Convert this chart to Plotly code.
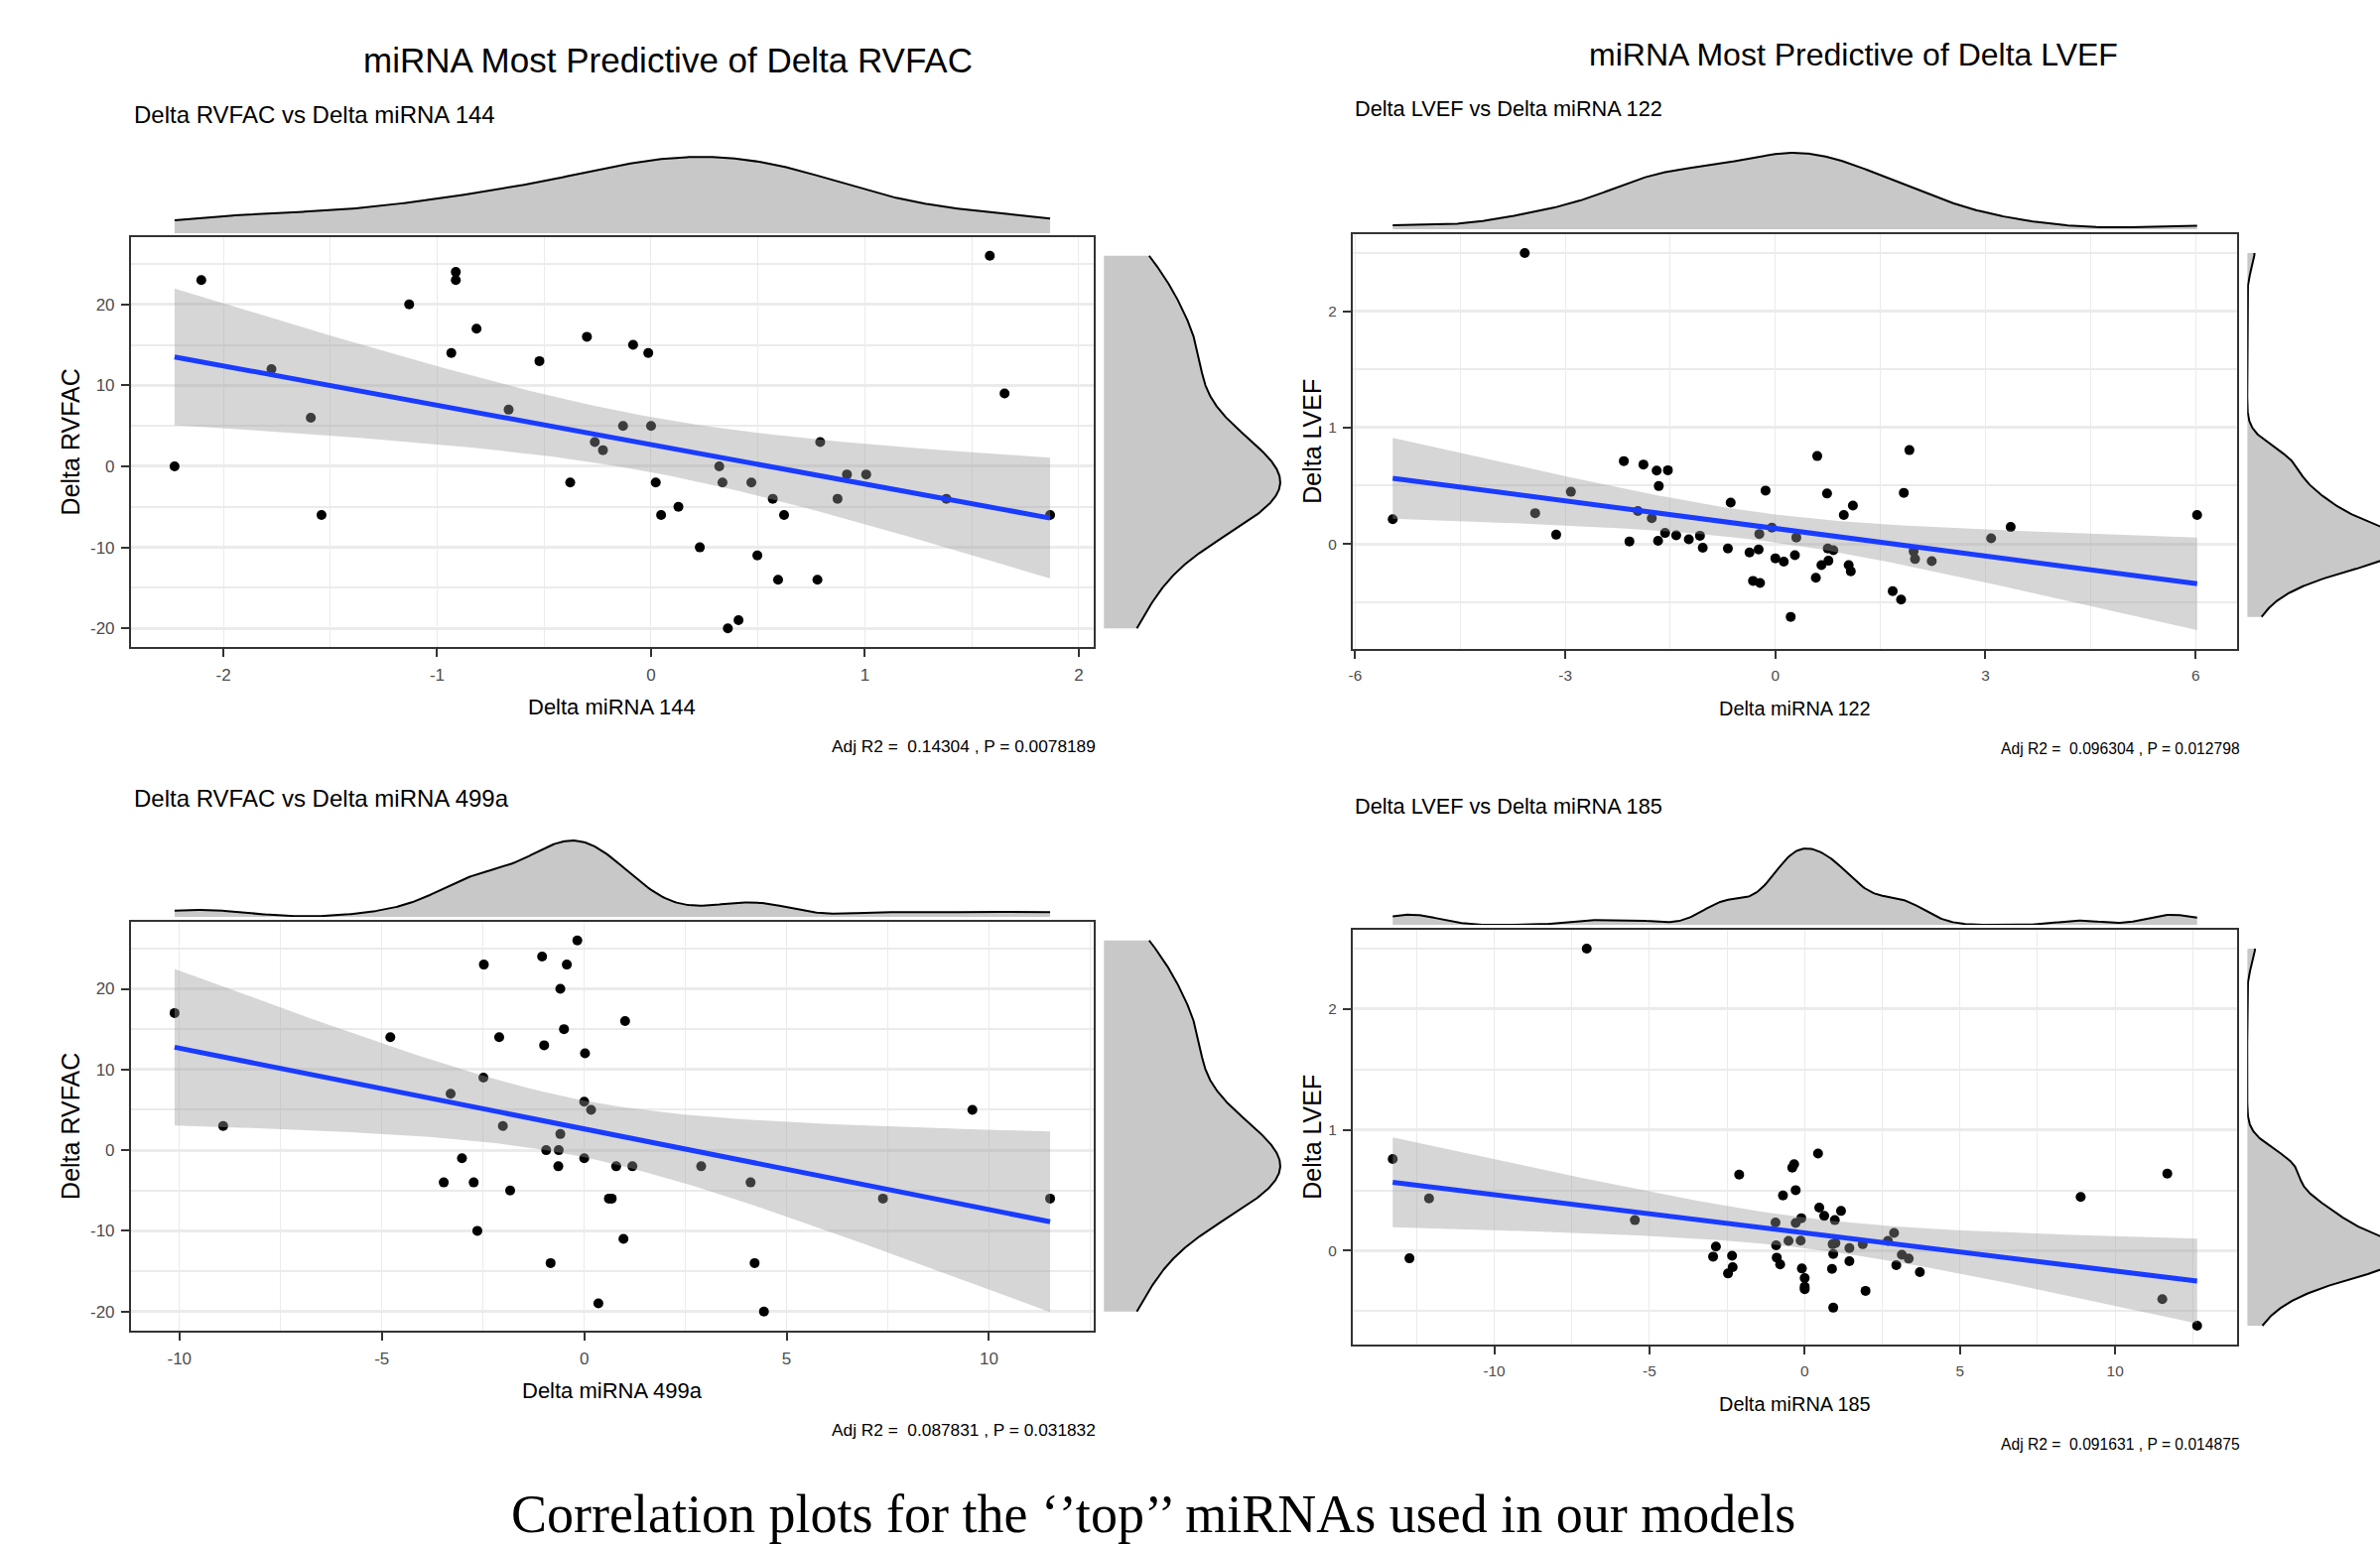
import numpy as np
import plotly.graph_objects as go

# ---------------- data ----------------
# Panel 1: Delta RVFAC vs Delta miRNA 144
mir144 = [-2.228, -2.103, -1.775, -1.591, -1.541, -1.131, -0.934, -0.913, -0.913, -0.816,
          -0.666, -0.522, -0.378, -0.300, -0.263, -0.225, -0.131, -0.084, -0.013, 0.000,
          0.022, 0.047, 0.128, 0.228, 0.319, 0.334, 0.359, 0.409, 0.469, 0.497,
          0.569, 0.594, 0.622, 0.778, 0.791, 0.872, 0.916, 1.006, 1.381, 1.584,
          1.653, 1.866]
rvfac_144 = [0, 23, 12, 6, -6, 20, 14, 24, 23, 17,
             7, 13, -2, 16, 3, 2, 5, 15, 14, 5,
             -2, -6, -5, -10, 0, -2, -20, -19, -2, -11,
             -4, -14, -6, -14, 3, -4, -1, -1, -4, 26,
             9, -6]

# Panel 2: Delta LVEF vs Delta miRNA 122
mir122 = [-5.464, -3.579, -3.430, -3.130, -2.920, -2.164, -2.084, -1.964, -1.884, -1.765,
          -1.695, -1.675, -1.665, -1.575, -1.535, -1.416, -1.236, -1.077, -1.037, -0.678,
          -0.638, -0.369, -0.319, -0.239, -0.229, -0.219, -0.140, -0.050, 0.000, 0.120,
          0.219, 0.279, 0.299, 0.578, 0.598, 0.658, 0.738, 0.748, 0.758, 0.828,
          0.977, 1.047, 1.077, 1.107, 1.675, 1.795, 1.834, 1.914, 1.974, 1.994,
          2.233, 3.081, 3.360, 6.022]
lvef_122 = [0.212, 2.500, 0.264, 0.079, 0.448, 0.712, 0.021, 0.282, 0.682, 0.221,
            0.630, 0.027, 0.497, 0.094, 0.633, 0.073, 0.039, 0.070, -0.033, -0.039,
            0.355, -0.073, -0.318, -0.048, 0.085, -0.336, 0.458, 0.139, -0.124, -0.152,
            -0.627, -0.097, 0.055, -0.291, 0.755, -0.182, 0.433, -0.039, -0.145, -0.055,
            0.248, -0.182, -0.236, 0.330, -0.406, -0.479, 0.439, 0.806, -0.064, -0.130,
            -0.148, 0.048, 0.145, 0.248]

# Panel 3: Delta RVFAC vs Delta miRNA 499a
mir499a = [-10.12, -8.92, -4.79, -3.47, -3.30, -3.02, -2.73, -2.64, -2.49, -2.48,
           -2.10, -2.01, -1.83, -1.04, -0.99, -0.94, -0.83, -0.64, -0.63, -0.59,
           -0.59, -0.50, -0.43, -0.17, 0.00, 0.00, 0.02, 0.17, 0.35, 0.61,
           0.68, 0.79, 0.97, 1.01, 1.19, 2.89, 4.11, 4.21, 4.44, 7.38,
           9.59, 11.51]
rvfac_499a = [17, 3, 14, -4, 7, -1, -4, -10, 9, 23,
              14, 3, -5, 24, 13, 0, -14, -2, 0, 2,
              20, 15, 23, 26, -1, 6, 12, 5, -19, -6,
              -6, -2, -11, 16, -2, -2, -4, -14, -20, -6,
              5, -6]

# Panel 4: Delta LVEF vs Delta miRNA 185
mir185 = [-13.27, -12.73, -12.10, -7.02, -5.47, -2.95, -2.86, -2.47, -2.34, -2.32,
          -2.11, -0.94, -0.92, -0.90, -0.79, -0.70, -0.52, -0.40, -0.34, -0.29,
          -0.29, -0.13, -0.11, -0.09, 0.00, 0.00, 0.00, 0.43, 0.47, 0.63,
          0.88, 0.90, 0.92, 0.92, 0.97, 0.99, 1.17, 1.44, 1.44, 1.87,
          1.96, 2.68, 2.88, 2.95, 3.13, 3.35, 3.71, 8.89, 11.52, 11.68,
          12.64]
lvef_185 = [0.759, -0.063, 0.433, 2.498, 0.253, -0.049, 0.035, -0.188, -0.041, -0.136,
            0.629, 0.234, 0.044, -0.057, -0.114, 0.457, 0.082, 0.686, 0.716, 0.501,
            0.229, 0.084, 0.269, -0.147, -0.226, -0.297, -0.318, 0.803, 0.356, 0.288,
            -0.150, 0.054, -0.027, -0.471, 0.253, 0.063, 0.329, 0.022, -0.087, 0.054,
            -0.332, 0.082, 0.147, -0.120, -0.033, -0.065, -0.177, 0.444, -0.400, 0.637,
            -0.620]

# tick values
xticks_144 = [-2, -1, 0, 1, 2]
xticks_122 = [-6, -3, 0, 3, 6]
xticks_499a = [-10, -5, 0, 5, 10]
xticks_185 = [-10, -5, 0, 5, 10]
yticks_rvfac = [-20, -10, 0, 10, 20]
yticks_lvef = [0, 1, 2]

section_titles = ["miRNA Most Predictive of Delta RVFAC", "miRNA Most Predictive of Delta LVEF"]
subtitles = ["Delta RVFAC vs Delta miRNA 144", "Delta LVEF vs Delta miRNA 122",
             "Delta RVFAC vs Delta miRNA 499a", "Delta LVEF vs Delta miRNA 185"]
xtitles = ["Delta miRNA 144", "Delta miRNA 122", "Delta miRNA 499a", "Delta miRNA 185"]
ytitles = ["Delta RVFAC", "Delta LVEF", "Delta RVFAC", "Delta LVEF"]
stats_text = ["Adj R2 = \u00a00.14304 , P = 0.0078189",
              "Adj R2 = \u00a00.096304 , P = 0.012798",
              "Adj R2 = \u00a00.087831 , P = 0.031832",
              "Adj R2 = \u00a00.091631 , P = 0.014875"]
caption = "Correlation plots for the \u2018\u2019top\u2019\u2019 miRNAs used in our models"

# ---------------- helpers ----------------
W, H = 2398, 1556


def px(x):
    return x / W


def py(y):
    return 1 - y / H


def t975(df):
    z = 1.959963985
    g1 = (z ** 3 + z) / 4
    g2 = (5 * z ** 5 + 16 * z ** 3 + 3 * z) / 96
    g3 = (3 * z ** 7 + 19 * z ** 5 + 17 * z ** 3 - 15 * z) / 384
    return z + g1 / df + g2 / df ** 2 + g3 / df ** 3


def lm_band(x, y, n=80):
    x = np.asarray(x, float)
    y = np.asarray(y, float)
    N = len(x)
    b, a = np.polyfit(x, y, 1)
    xs = np.linspace(x.min(), x.max(), n)
    fit = a + b * xs
    resid = y - (a + b * x)
    s = np.sqrt((resid ** 2).sum() / (N - 2))
    sxx = ((x - x.mean()) ** 2).sum()
    se = s * np.sqrt(1 / N + (xs - x.mean()) ** 2 / sxx)
    t = t975(N - 2)
    return xs, fit, fit - t * se, fit + t * se


def kde(v, n=512):
    v = np.asarray(v, float)
    N = len(v)
    sd = v.std(ddof=1)
    q75, q25 = np.percentile(v, [75, 25])
    lo = min(sd, (q75 - q25) / 1.34)
    bw = 0.9 * lo * N ** -0.2
    g = np.linspace(v.min(), v.max(), n)
    d = np.exp(-0.5 * ((g[:, None] - v[None, :]) / bw) ** 2).sum(1) / (N * bw * np.sqrt(2 * np.pi))
    return g, d


def expand(lo, hi, f=0.05):
    s = hi - lo
    return [lo - f * s, hi + f * s]


def minor_vals(ticks):
    s = ticks[1] - ticks[0]
    return [ticks[0] - s / 2] + [t + s / 2 for t in ticks]


def axkey(kind, idx):
    return kind + "axis" + ("" if idx == 1 else str(idx))


def axref(kind, idx):
    return kind + ("" if idx == 1 else str(idx))


# ---------------- layout geometry (pixels) ----------------
DXL, DXR = -5, -3   # small horizontal corrections per column
panels = [
    dict(x=mir144, y=rvfac_144, xt=xticks_144, yt=yticks_rvfac, dx=DXL, fs=1.0,
         L=133, R=1105, T=239, B=652, topbase=235, rstart=1115, rw=187,
         sub=(134, 116), ytitle_x=72, stat_right=1104),
    dict(x=mir122, y=lvef_122, xt=xticks_122, yt=yticks_lvef, dx=DXR, fs=0.905,
         L=1364, R=2257, T=236, B=654, topbase=231, rstart=2267, rw=172,
         sub=(1364, 110), ytitle_x=1323, stat_right=2259),
    dict(x=mir499a, y=rvfac_499a, xt=xticks_499a, yt=yticks_rvfac, dx=DXL, fs=1.0,
         L=133, R=1105, T=929, B=1341, topbase=924, rstart=1115, rw=187,
         sub=(134, 804), ytitle_x=72, stat_right=1104),
    dict(x=mir185, y=lvef_185, xt=xticks_185, yt=yticks_lvef, dx=DXR, fs=0.905,
         L=1364, R=2257, T=937, B=1355, topbase=932, rstart=2267, rw=172,
         sub=(1364, 812), ytitle_x=1323, stat_right=2259),
]

SANS = "Liberation Sans, Arial, sans-serif"
SERIF = "Liberation Serif, Times New Roman, serif"
GRID = "#EBEBEB"
FRAME = "#333333"

fig = go.Figure()
layout = dict(width=W, height=H, margin=dict(l=0, r=0, t=0, b=0, pad=0),
              paper_bgcolor="white", plot_bgcolor="white", showlegend=False,
              font=dict(family=SANS, color="black"))
annotations = []

for i, p in enumerate(panels):
    im, it, ir = 3 * i + 1, 3 * i + 2, 3 * i + 3
    d = p["dx"]
    fs = p["fs"]
    L, R, T, B = p["L"] + d, p["R"] + d, p["T"], p["B"]
    x = np.asarray(p["x"], float)
    y = np.asarray(p["y"], float)
    xs, fit, lo, hi = lm_band(x, y)
    xr = expand(x.min(), x.max())
    yr = expand(min(y.min(), lo.min()), max(y.max(), hi.max()))

    # main scatter (points under the ribbon, as in ggplot)
    fig.add_trace(go.Scatter(x=x, y=y, mode="markers",
                             marker=dict(color="black", size=10, line=dict(width=0)),
                             xaxis=axref("x", im), yaxis=axref("y", im), hoverinfo="skip"))
    fig.add_trace(go.Scatter(x=np.concatenate([xs, xs[::-1]]),
                             y=np.concatenate([hi, lo[::-1]]),
                             mode="lines", fill="toself", fillcolor="rgba(153,153,153,0.4)",
                             line=dict(width=0), xaxis=axref("x", im), yaxis=axref("y", im),
                             hoverinfo="skip"))
    fig.add_trace(go.Scatter(x=xs, y=fit, mode="lines", line=dict(color="#1A3CFF", width=5),
                             xaxis=axref("x", im), yaxis=axref("y", im), hoverinfo="skip"))

    # marginal densities
    gx, dxv = kde(x)
    gy, dyv = kde(y)
    fig.add_trace(go.Scatter(x=gx, y=dxv, mode="lines", fill="tozeroy", fillcolor="#C8C8C8",
                             line=dict(color="black", width=2),
                             xaxis=axref("x", it), yaxis=axref("y", it), hoverinfo="skip"))
    fig.add_trace(go.Scatter(x=dyv, y=gy, mode="lines", fill="tozerox", fillcolor="#C8C8C8",
                             line=dict(color="black", width=2),
                             xaxis=axref("x", ir), yaxis=axref("y", ir), hoverinfo="skip"))

    xdom = [px(L), px(R)]
    ydom = [py(B), py(T)]
    common = dict(showline=True, mirror=True, linecolor=FRAME, linewidth=1.6,
                  ticks="outside", ticklen=8, tickwidth=2, tickcolor=FRAME,
                  tickfont=dict(size=17 * fs, color="#4D4D4D", family=SANS),
                  zeroline=False, showgrid=True, gridcolor=GRID)
    layout[axkey("x", im)] = dict(common, domain=xdom, range=xr, anchor=axref("y", im),
                                  tickvals=p["xt"], ticktext=[str(v) for v in p["xt"]],
                                  gridwidth=1.4, ticklabelstandoff=4,
                                  minor=dict(tickvals=minor_vals(p["xt"]), showgrid=True,
                                             gridcolor=GRID, gridwidth=0.9, ticks=""))
    layout[axkey("y", im)] = dict(common, domain=ydom, range=yr, anchor=axref("x", im),
                                  tickvals=p["yt"], ticktext=[str(v) for v in p["yt"]],
                                  gridwidth=2.6, ticklabelstandoff=3,
                                  minor=dict(tickvals=minor_vals(p["yt"]), showgrid=True,
                                             gridcolor=GRID, gridwidth=1.6, ticks=""))
    # top marginal
    tb = p["topbase"]
    layout[axkey("x", it)] = dict(domain=xdom, range=xr, visible=False, anchor=axref("y", it))
    layout[axkey("y", it)] = dict(domain=[py(tb), py(tb - 80)], range=[0, dxv.max() * 1.04],
                                  visible=False, anchor=axref("x", it))
    # right marginal
    rs, rw = p["rstart"] + d, p["rw"]
    rend = min(W, rs + rw)
    layout[axkey("x", ir)] = dict(domain=[px(rs), px(rend)],
                                  range=[0, dyv.max() * 1.05 * (rend - rs) / rw],
                                  visible=False, anchor=axref("y", ir))
    layout[axkey("y", ir)] = dict(domain=ydom, range=yr, visible=False, anchor=axref("x", ir))

    # texts
    annotations.append(dict(text=subtitles[i], x=px(p["sub"][0] + d), y=py(p["sub"][1]),
                            xref="paper", yref="paper", xanchor="left", yanchor="middle",
                            showarrow=False, font=dict(size=24 * fs, family=SANS, color="black")))
    annotations.append(dict(text=xtitles[i], x=px((L + R) / 2), y=py(B + 60),
                            xref="paper", yref="paper", xanchor="center", yanchor="middle",
                            showarrow=False, font=dict(size=22 * fs, family=SANS, color="black")))
    annotations.append(dict(text=ytitles[i], x=px(p["ytitle_x"] + d), y=py((T + B) / 2),
                            xref="paper", yref="paper", xanchor="center", yanchor="middle",
                            textangle=-90, showarrow=False,
                            font=dict(size=25, family=SANS, color="black")))
    annotations.append(dict(text=stats_text[i], x=px(p["stat_right"]), y=py(B + 100),
                            xref="paper", yref="paper", xanchor="right", yanchor="middle",
                            showarrow=False, font=dict(size=17.3 * fs, family=SANS, color="black")))

annotations.append(dict(text=section_titles[0], x=px(670), y=py(60), xref="paper", yref="paper",
                        xanchor="center", yanchor="middle", showarrow=False,
                        font=dict(size=35, family=SANS, color="black")))
annotations.append(dict(text=section_titles[1], x=px(1867), y=py(55), xref="paper", yref="paper",
                        xanchor="center", yanchor="middle", showarrow=False,
                        font=dict(size=32, family=SANS, color="black")))
annotations.append(dict(text=caption, x=px(1160), y=py(1558), xref="paper", yref="paper",
                        xanchor="center", yanchor="bottom", showarrow=False,
                        font=dict(size=54, family=SERIF, color="black")))

layout["annotations"] = annotations
fig.update_layout(**layout)

fig.write_html("out.html", config={"displayModeBar": False},
               post_script="document.body.style.margin='0';")
